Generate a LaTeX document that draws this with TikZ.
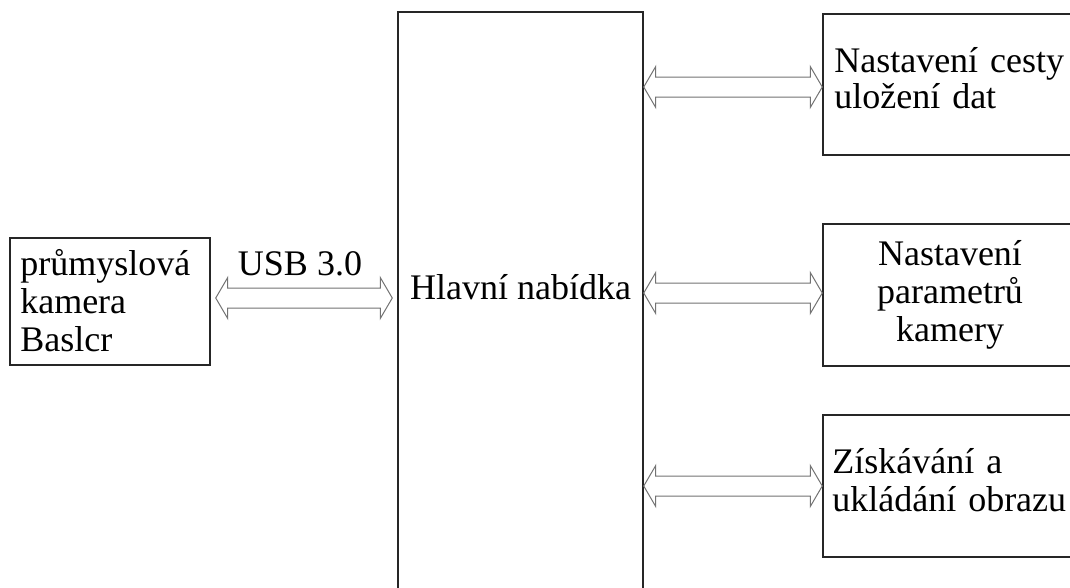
\documentclass[tikz,border=0pt]{standalone}
\usepackage{fontspec}
\setmainfont{Liberation Serif}
\usetikzlibrary{calc}
\newcommand\bidiarrow[2]{%
\draw[arrowline] let \p1=(#1), \p2=(#2) in
  (\x1,\y1)--({\x1+9pt},{\y1+15.4pt})--({\x1+9pt},{\y1+7.5pt})--({\x2-9pt},{\y1+7.5pt})
  --({\x2-9pt},{\y1+15.4pt})--(\x2,\y1)--({\x2-9pt},{\y1-15.4pt})--({\x2-9pt},{\y1-7.5pt})
  --({\x1+9pt},{\y1-7.5pt})--({\x1+9pt},{\y1-15.4pt})--cycle;}
\begin{document}
\begin{tikzpicture}[x=0.75pt,y=-0.75pt,
  box/.style={draw=black!85,line width=1.1pt,minimum width=#1,inner sep=0pt},
  box/.default=150pt,
  txt/.style={inner sep=0pt,font=\fontsize{27pt}{28.5pt}\selectfont},
  arrowline/.style={draw=black!55,line width=0.75pt,fill=white}]
\useasboundingbox (0,0) rectangle (1070,587);
\clip (0,0) rectangle (1070,587);
\node[box=150pt,minimum height=95.25pt] (cam) at (110,301.5) {};
\node[box=183.75pt,minimum height=441pt] (menu) at (520.5,306) {};
\node[box=190.5pt,minimum height=105.75pt] (path) at (950,84.5) {};
\node[box=190.5pt,minimum height=106.5pt] (param) at (950,295) {};
\node[box=190.5pt,minimum height=106.5pt] (grab) at (950,486) {};
\bidiarrow{$(cam.east)+(5,-3.5)$}{$(menu.west|-cam.east)+(-5,-3.5)$}
\bidiarrow{$(menu.east|-path.west)+(0,2.5)$}{$(path.west)+(0,2.5)$}
\bidiarrow{$(menu.east|-param.west)+(0,-2)$}{$(param.west)+(0,-2)$}
\bidiarrow{menu.east|-grab.west}{grab.west}
\node[txt,anchor=base west,text width=140pt,align=left] (camtxt) at (20,275) {průmyslová\\kamera\\Baslcr};
\node[txt,anchor=base] (usb) at (300,275) {USB 3.0};
\node[txt,anchor=base] (menutxt) at (520.5,299) {Hlavní nabídka};
\node[txt,anchor=base west,text width=200pt,align=left,font=\fontsize{27pt}{27pt}\selectfont] (pathtxt) at (834,72) {Nastavení cesty\\uložení dat};
\node[txt,anchor=base,text width=180pt,align=center] (paramtxt) at (950,265) {Nastavení\\parametrů\\kamery};
\node[txt,anchor=base west,text width=200pt,align=left] (grabtxt) at (832,473) {Získávání a\\ukládání obrazu};
\end{tikzpicture}
\end{document}
